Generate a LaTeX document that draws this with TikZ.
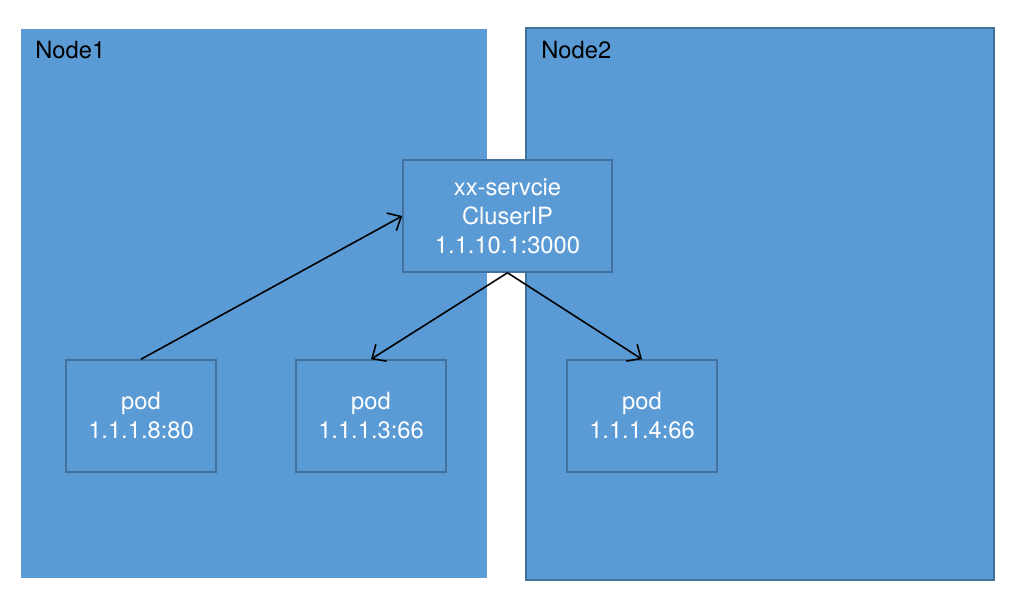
\documentclass[tikz,border=0pt]{standalone}
\usepackage{fontspec}
\setmainfont{TeX Gyre Heros}
\usetikzlibrary{arrows.meta, positioning}
\definecolor{relleno}{HTML}{5A9AD5}
\definecolor{borde}{HTML}{41719C}
\tikzset{
  nodo/.style={rectangle, fill=relleno, inner sep=0pt, outer sep=0pt},
  caja/.style={rectangle, draw=borde, line width=0.9pt, fill=relleno,
               minimum width=3cm, minimum height=2.24cm, align=center,
               text=white, font=\fontsize{13.5}{16.5}\selectfont},
  titulo/.style={anchor=north west, inner sep=0pt, text=black,
                 font=\fontsize{13.5}{16.5}\selectfont},
  flecha/.style={-{Straight Barb[length=2.2mm, width=4mm]}, line width=0.9pt}
}
\begin{document}
\begin{tikzpicture}[x=0.02cm, y=-0.02cm]
  \useasboundingbox (0,0) rectangle (1010,600);
  % ── Nodos del cluster ──
  \node[nodo, minimum width=9.32cm, minimum height=10.98cm] (n1) at (254,303.5) {};
  \node[nodo, draw=borde, line width=1.3pt, minimum width=9.36cm,
        minimum height=11.04cm] (n2) at (760,304) {};
  \node[titulo] (t1) at (35,41) {Node1};
  \node[titulo] (t2) at (541,41) {Node2};

  % ── Servicio y pods ──
  \node[caja, minimum width=4.18cm] (svc) at (507.5,216)
        {xx-servcie\\CluserIP\\1.1.10.1:3000};
  \node[caja] (pod1) at (141,416) {pod\\1.1.1.8:80};
  \node[caja] (pod2) at (371,416) {pod\\1.1.1.3:66};
  \node[caja] (pod3) at (642,416) {pod\\1.1.1.4:66};

  % ── Flechas ──
  \draw[flecha] (pod1.north) -- (svc.west);
  \draw[flecha] (svc.south)  -- (pod2.north);
  \draw[flecha] (svc.south)  -- (pod3.north);
\end{tikzpicture}
\end{document}
